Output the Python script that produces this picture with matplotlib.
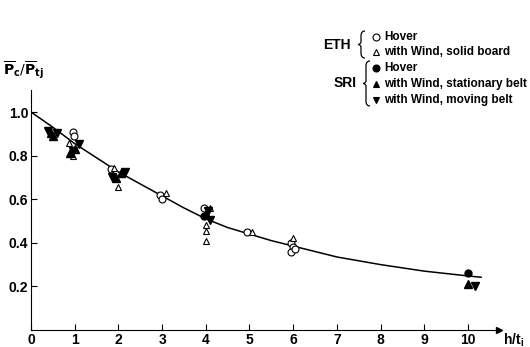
import numpy as np
import matplotlib
matplotlib.use('Agg')
import matplotlib.pyplot as plt
from matplotlib.path import Path
from matplotlib.patches import PathPatch

plt.rcParams['font.family'] = ['Liberation Sans', 'DejaVu Sans']

# fitted curve
curve_x = [0, 0.25, 0.5, 1, 1.5, 2, 2.5, 3, 3.5, 4, 4.5, 5, 5.5, 6, 7, 8, 9, 10, 10.3]
curve_y = [1.0, 0.965, 0.93, 0.855, 0.79, 0.725, 0.67, 0.615, 0.56, 0.51, 0.47, 0.44, 0.41, 0.385, 0.335, 0.30, 0.27, 0.248, 0.242]

# ETH
eth_hover_x = [0.95, 0.98, 1.83, 2.95, 3.0, 3.95, 4.95, 5.95, 6.0, 5.95, 6.05]
eth_hover_y = [0.91, 0.89, 0.74, 0.62, 0.60, 0.56, 0.45, 0.40, 0.38, 0.36, 0.37]
eth_wind_x = [0.88, 0.95, 1.9, 2.0, 3.1, 4.1, 4.0, 4.0, 4.0, 5.05, 6.0]
eth_wind_y = [0.86, 0.80, 0.745, 0.655, 0.63, 0.56, 0.48, 0.455, 0.41, 0.45, 0.42]

# SRI
sri_hover_x = [3.95, 10.0]
sri_hover_y = [0.525, 0.26]
sri_stat_x = [0.45, 0.5, 0.9, 1.0, 1.95, 2.05, 4.0, 10.0]
sri_stat_y = [0.905, 0.89, 0.81, 0.83, 0.695, 0.72, 0.53, 0.21]
sri_move_x = [0.4, 0.6, 1.1, 0.95, 1.85, 2.15, 4.05, 4.1, 10.15]
sri_move_y = [0.915, 0.905, 0.855, 0.82, 0.70, 0.725, 0.545, 0.505, 0.20]

xticks = list(range(0, 11))
yticks = [0.2, 0.4, 0.6, 0.8, 1.0]

W, H = 530, 347
fig = plt.figure(figsize=(W / 100, H / 100), dpi=100)
ax = fig.add_axes([31 / W, 17 / H, 489.4 / W, 272.5 / H])
ax.set_xlim(0, 11.2)
ax.set_ylim(0, 1.25)

ax.plot(curve_x, curve_y, color='black', lw=1.1)

ms = 5
ax.plot(eth_hover_x, eth_hover_y, 'o', ms=ms, mfc='white', mec='black', mew=0.8, ls='none')
ax.plot(eth_wind_x, eth_wind_y, '^', ms=ms, mfc='white', mec='black', mew=0.8, ls='none')
ax.plot(sri_hover_x, sri_hover_y, 'o', ms=ms, color='black', ls='none')
ax.plot(sri_stat_x, sri_stat_y, '^', ms=ms + 1, color='black', ls='none')
ax.plot(sri_move_x, sri_move_y, 'v', ms=ms + 1, color='black', ls='none')

for s in ['top', 'right']:
    ax.spines[s].set_visible(False)
ax.spines['bottom'].set_bounds(0, 10.7)
ax.spines['left'].set_bounds(0, 1.1)
ax.plot([10.7], [0], marker='>', color='black', ms=4, clip_on=False)

ax.set_xticks(xticks)
ax.set_xticklabels([str(t) for t in xticks], fontweight='bold', fontsize=10)
ax.set_yticks(yticks)
ax.set_yticklabels([f'{t:.1f}' for t in yticks], fontweight='bold', fontsize=10)
ax.tick_params(direction='in', length=4, width=0.8, pad=2)

ax.text(10.8, -0.045, r'h/t$_\mathregular{i}$', fontsize=10, fontweight='bold',
        ha='left', va='center')
fig.text(3 / W, 1 - 70 / H, r'$\overline{\mathbf{P}}_\mathbf{c}/\overline{\mathbf{P}}_\mathbf{tj}$',
         fontsize=10, ha='left', va='center')

# legend
def fy(p):
    return 1 - p / H

def bracket(x0, ytop, ybot):
    # thin "{" drawn in figure pixels
    mid = (ytop + ybot) / 2
    verts = [(x0 + 4, ytop), (x0, ytop), (x0, ytop + 5),
             (x0, mid - 3), (x0, mid), (x0 - 3, mid),
             (x0, mid), (x0, mid + 3),
             (x0, ybot - 5), (x0, ybot), (x0 + 4, ybot)]
    codes = [Path.MOVETO, Path.CURVE3, Path.CURVE3,
             Path.LINETO, Path.CURVE3, Path.CURVE3,
             Path.CURVE3, Path.CURVE3,
             Path.LINETO, Path.CURVE3, Path.CURVE3]
    verts = [(x / W, fy(y)) for x, y in verts]
    fig.add_artist(PathPatch(Path(verts, codes), fill=False, lw=0.9,
                             edgecolor='black', transform=fig.transFigure))

mx, tx = 376 / W, 384 / W
rows = [
    (37, 'o', 'white', 'Hover'),
    (52, '^', 'white', 'with Wind, solid board'),
    (68, 'o', 'black', 'Hover'),
    (84, '^', 'black', 'with Wind, stationary belt'),
    (100, 'v', 'black', 'with Wind, moving belt'),
]
for ypx, m, fc, lab in rows:
    fig.add_artist(plt.Line2D([mx], [fy(ypx)], marker=m, ms=5, mfc=fc, mec='black',
                              mew=0.8, ls='none', transform=fig.transFigure))
    fig.text(tx, fy(ypx), lab, fontsize=8.5, fontweight='bold', ha='left', va='center')

fig.text(351 / W, fy(45), 'ETH', fontsize=10, fontweight='bold', ha='right', va='center')
fig.text(357 / W, fy(83), 'SRI', fontsize=10, fontweight='bold', ha='right', va='center')
bracket(361, 31, 58)
bracket(366, 61, 106)

fig.savefig('out.png', dpi=100)
